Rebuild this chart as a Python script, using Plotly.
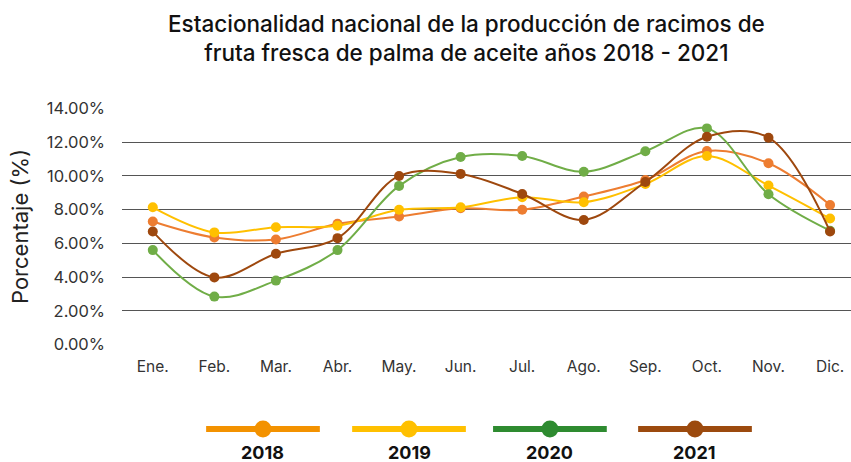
import plotly.graph_objects as go

# Monthly share of annual fresh fruit bunch production (%)
months = ["Ene.", "Feb.", "Mar.", "Abr.", "May.", "Jun.", "Jul.", "Ago.", "Sep.", "Oct.", "Nov.", "Dic."]
years = ["2018", "2019", "2020", "2021"]

share_2018 = [7.30, 6.35, 6.23, 7.16, 7.59, 8.08, 7.99, 8.78, 9.76, 11.48, 10.75, 8.28]
share_2019 = [8.14, 6.65, 6.96, 7.04, 7.99, 8.14, 8.74, 8.44, 9.52, 11.18, 9.43, 7.47]
share_2020 = [5.60, 2.84, 3.79, 5.60, 9.41, 11.12, 11.18, 10.25, 11.46, 12.82, 8.91, 6.75]
share_2021 = [6.70, 3.98, 5.38, 6.31, 10.00, 10.12, 8.93, 7.39, 9.64, 12.32, 12.27, 6.70]

y_ticks = [0, 2, 4, 6, 8, 10, 12, 14]

series = [share_2018, share_2019, share_2020, share_2021]
line_colors = ["#ED7D31", "#FFC000", "#70AD47", "#9E480E"]
legend_colors = ["#F39200", "#FFC000", "#2E8B30", "#9C4A0E"]

FONT = "Inter"

fig = go.Figure()
for name, vals, col in zip(years, series, line_colors):
    fig.add_trace(go.Scatter(
        x=months, y=[v / 100 for v in vals], name=name,
        mode="lines+markers",
        line=dict(color=col, width=2, shape="spline", smoothing=1.0),
        marker=dict(color=col, size=10),
        showlegend=False,
    ))

# Custom legend below the plot: thick line with a centred dot, label underneath
legend_x = [0.1934, 0.3937, 0.587, 0.786]
legend_half = 0.078
legend_line_y = -0.354
legend_text_y = -0.455
for name, col, cx in zip(years, legend_colors, legend_x):
    fig.add_shape(type="line", xref="paper", yref="paper",
                  x0=cx - legend_half, x1=cx + legend_half,
                  y0=legend_line_y, y1=legend_line_y,
                  line=dict(color=col, width=6))
    fig.add_shape(type="circle", xref="paper", yref="paper",
                  xsizemode="pixel", ysizemode="pixel",
                  xanchor=cx, yanchor=legend_line_y,
                  x0=-8.5, x1=8.5, y0=-8.5, y1=8.5,
                  fillcolor=col, line=dict(color=col, width=0))
    fig.add_annotation(xref="paper", yref="paper", x=cx, y=legend_text_y,
                       text=name, showarrow=False,
                       xanchor="center", yanchor="middle",
                       font=dict(family=FONT, size=18, color="#111111", weight=700))

# Two-line chart heading
fig.add_annotation(
    xref="paper", yref="paper", x=0.472, y=1.295,
    text="Estacionalidad nacional de la producción de racimos de<br>fruta fresca de palma de aceite años 2018 - 2021",
    showarrow=False, xanchor="center", yanchor="middle", align="center",
    font=dict(family=FONT, size=22.5, color="#111111", weight=500),
)

fig.update_layout(
    width=851, height=462,
    margin=dict(l=122, r=0, t=108, b=117),
    paper_bgcolor="white", plot_bgcolor="white",
    font=dict(family=FONT, color="#404040"),
)

fig.update_xaxes(
    type="category", range=[-0.5, 11.34],
    showgrid=False, showline=False, zeroline=False, ticks="",
    ticklabelstandoff=10,
    tickfont=dict(family=FONT, size=15.5, color="#333333"),
)
fig.update_yaxes(
    range=[-0.0003, 0.1403],
    tickvals=[t / 100 for t in y_ticks],
    tickformat=".2%",
    showgrid=True, gridcolor="#555555", gridwidth=1,
    zeroline=False, showline=False, ticks="",
    ticklabelstandoff=16,
    tickfont=dict(family=FONT, size=16.5, color="#333333"),
    title=dict(text="Porcentaje (%)", standoff=12,
               font=dict(family=FONT, size=22, color="#222222")),
)

fig.write_html("out.html")
